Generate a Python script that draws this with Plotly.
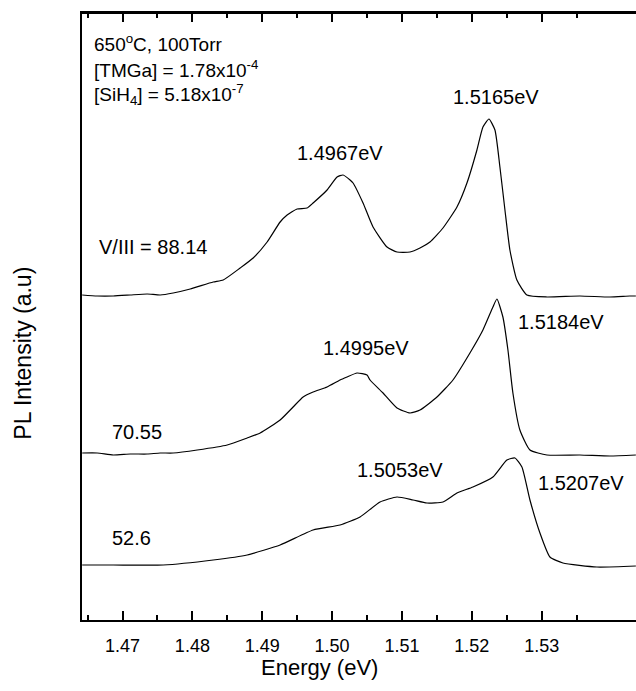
import plotly.graph_objects as go

# ---------------- data ----------------
E_TOP = [1.46423, 1.46638, 1.46867, 1.47110, 1.47353, 1.47539, 1.47725, 1.47969, 1.48298,
         1.48441, 1.48684, 1.48870, 1.49070, 1.49256, 1.49356, 1.49499, 1.49642, 1.49728,
         1.49928, 1.50071, 1.50157, 1.50257, 1.50300, 1.50443, 1.50586, 1.50786, 1.50929,
         1.51115, 1.51258, 1.51401, 1.51587, 1.51787, 1.51930, 1.52073, 1.52159, 1.52245,
         1.52331, 1.52402, 1.52474, 1.52545, 1.52645, 1.52788, 1.53075, 1.53547, 1.53977,
         1.54262, 1.54348]
I_TOP = [3.25, 3.24, 3.24, 3.25, 3.26, 3.25, 3.27, 3.31, 3.38,
         3.40, 3.52, 3.62, 3.78, 3.98, 4.05, 4.11, 4.12, 4.17,
         4.30, 4.43, 4.45, 4.40, 4.37, 4.17, 3.93, 3.73, 3.68,
         3.68, 3.72, 3.78, 3.92, 4.13, 4.37, 4.70, 4.93, 5.01,
         4.90, 4.53, 4.10, 3.70, 3.40, 3.25, 3.23, 3.24, 3.23,
         3.24, 3.24]

E_MID = [1.46423, 1.46638, 1.46867, 1.47110, 1.47353, 1.47539, 1.47725, 1.48069, 1.48498,
         1.48784, 1.48970, 1.49256, 1.49442, 1.49585, 1.49728, 1.49928, 1.50114, 1.50214,
         1.50357, 1.50500, 1.50543, 1.50729, 1.50929, 1.51115, 1.51258, 1.51501, 1.51730,
         1.51973, 1.52159, 1.52302, 1.52359, 1.52445, 1.52517, 1.52588, 1.52688, 1.52832,
         1.53075, 1.53547, 1.53977, 1.54348]
I_MID = [1.67, 1.67, 1.65, 1.66, 1.66, 1.67, 1.67, 1.70, 1.75,
         1.82, 1.87, 2.00, 2.13, 2.23, 2.28, 2.33, 2.40, 2.43,
         2.47, 2.45, 2.40, 2.27, 2.12, 2.07, 2.10, 2.23, 2.40,
         2.67, 2.90, 3.13, 3.21, 3.03, 2.70, 2.27, 1.90, 1.70,
         1.65, 1.65, 1.64, 1.65]

E_BOT = [1.46423, 1.46867, 1.47582, 1.48298, 1.48784, 1.49256, 1.49728, 1.50114, 1.50400,
         1.50686, 1.50929, 1.51158, 1.51358, 1.51587, 1.51787, 1.52016, 1.52302, 1.52502,
         1.52617, 1.52717, 1.52832, 1.52975, 1.53118, 1.53304, 1.53790, 1.54348]
I_BOT = [0.55, 0.55, 0.55, 0.60, 0.65, 0.75, 0.90, 0.95, 1.03,
         1.18, 1.23, 1.20, 1.17, 1.18, 1.27, 1.33, 1.43, 1.60,
         1.62, 1.53, 1.20, 0.87, 0.63, 0.57, 0.53, 0.54]

TICK_VALUES = [1.47, 1.48, 1.49, 1.50, 1.51, 1.52, 1.53]
TICK_LABELS = ["1.47", "1.48", "1.49", "1.50", "1.51", "1.52", "1.53"]
MINOR_TICKS = [1.465, 1.475, 1.485, 1.495, 1.505, 1.515, 1.525, 1.535]

HEADER_LINES = ["650<sup>o</sup>C, 100Torr",
                "[TMGa] = 1.78x10<sup>-4</sup>",
                "[SiH<sub>4</sub>] = 5.18x10<sup>-7</sup>"]
HEADER_Y = [5.77, 5.51, 5.26]

SERIES_LABELS = ["V/III = 88.14", "70.55", "52.6"]
SERIES_LABEL_X = [1.46638, 1.46825, 1.46825]
SERIES_LABEL_Y = [3.73, 1.88, 0.82]

PEAK_LABELS = ["1.4967eV", "1.5165eV", "1.4995eV", "1.5184eV", "1.5053eV", "1.5207eV"]
PEAK_LABEL_X = [1.50114, 1.52346, 1.50486, 1.53276, 1.50971, 1.53561]
PEAK_LABEL_Y = [4.67, 5.23, 2.72, 2.98, 1.50, 1.37]

FONT = "Liberation Sans, Arial, sans-serif"

fig = go.Figure()
for e, i in [(E_TOP, I_TOP), (E_MID, I_MID), (E_BOT, I_BOT)]:
    fig.add_trace(go.Scatter(x=e, y=i, mode="lines",
                             line=dict(color="black", width=1.2, shape="spline", smoothing=0.5),
                             showlegend=False, hoverinfo="skip"))

annotations = []
for txt, y in zip(HEADER_LINES, HEADER_Y):
    annotations.append(dict(text=txt, x=1.46567, y=y, xref="x", yref="y",
                            xanchor="left", yanchor="middle", showarrow=False,
                            font=dict(size=19, color="black", family=FONT)))
for txt, x, y in zip(SERIES_LABELS, SERIES_LABEL_X, SERIES_LABEL_Y):
    annotations.append(dict(text=txt, x=x, y=y, xref="x", yref="y",
                            xanchor="left", yanchor="middle", showarrow=False,
                            font=dict(size=20, color="black", family=FONT)))
for txt, x, y in zip(PEAK_LABELS, PEAK_LABEL_X, PEAK_LABEL_Y):
    annotations.append(dict(text=txt, x=x, y=y, xref="x", yref="y",
                            xanchor="center", yanchor="middle", showarrow=False,
                            font=dict(size=20, color="black", family=FONT)))
annotations.append(dict(text="Energy (eV)", x=0.4278, y=-0.078, xref="paper", yref="paper",
                        xanchor="center", yanchor="middle", showarrow=False,
                        font=dict(size=22, color="black", family=FONT)))
annotations.append(dict(text="PL Intensity (a.u)", x=-0.108, y=0.439, xref="paper", yref="paper",
                        xanchor="center", yanchor="middle", showarrow=False, textangle=-90,
                        font=dict(size=23, color="black", family=FONT)))

fig.update_layout(
    width=636, height=691,
    margin=dict(l=82, r=0, t=13, b=71),
    paper_bgcolor="white", plot_bgcolor="white",
    showlegend=False,
    annotations=annotations,
    xaxis=dict(range=[1.4642, 1.5435], showgrid=False, zeroline=False,
               showline=True, linecolor="black", linewidth=2, mirror="ticks",
               ticks="inside", ticklen=9, tickwidth=1.5, tickcolor="black",
               tickvals=TICK_VALUES, ticktext=TICK_LABELS, ticklabelstandoff=8,
               tickfont=dict(size=18, color="black", family=FONT),
               minor=dict(tickvals=MINOR_TICKS,
                          ticks="inside", ticklen=5, tickwidth=1.5, tickcolor="black",
                          showgrid=False)),
    yaxis=dict(range=[0, 6.07], showgrid=False, zeroline=False, showline=True,
               linecolor="black", linewidth=2, ticks="", showticklabels=False),
)
# upper frame edge
fig.add_shape(type="line", xref="paper", yref="paper", x0=0, x1=1, y0=1, y1=1,
              line=dict(color="black", width=2), layer="above")

fig.write_html("out.html")
